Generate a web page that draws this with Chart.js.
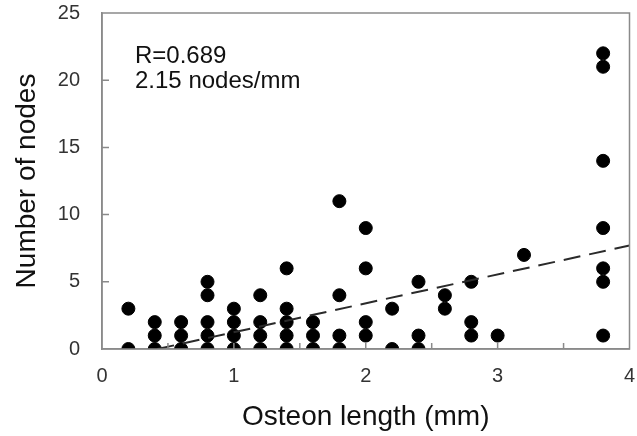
<!DOCTYPE html>
<html>
<head>
<meta charset="utf-8">
<script src="https://cdn.jsdelivr.net/npm/chart.js@4"></script>
<style>
  html, body { margin: 0; padding: 0; background: #fff; }
  #wrap { width: 637px; height: 436px; }
</style>
</head>
<body>
<div id="wrap"><canvas id="scatterChart" width="637" height="436"></canvas></div>
<script>
// osteon length columns (mm) and the node counts seen at each one
const osteonLength = [0.2, 0.4, 0.6, 0.8, 1.0, 1.2, 1.4, 1.6, 1.8, 2.0, 2.2, 2.4, 2.6, 2.8, 3.0, 3.2, 3.8];
const nodeCounts = [
  [0, 3],
  [0, 1, 2],
  [0, 1, 2],
  [0, 1, 2, 4, 5],
  [0, 1, 2, 3],
  [0, 1, 2, 4],
  [0, 1, 2, 3, 6],
  [0, 1, 2],
  [0, 1, 4, 11],
  [1, 2, 6, 9],
  [0, 3],
  [0, 1, 5],
  [3, 4],
  [1, 2, 5],
  [1],
  [7],
  [1, 5, 6, 9, 14, 21, 22]
];

// regression line, 2.15 nodes/mm
const fitX = [0.42, 4.0];
const fitY = [0, 7.7];

const xTicks = [0, 1, 2, 3, 4];
const yTicks = [0, 5, 10, 15, 20, 25];
const notes = ['R=0.689', '2.15 nodes/mm'];

const FONT = 'Arial, "Liberation Sans", sans-serif';
const AXIS = '#8a8a8a';

const points = [];
osteonLength.forEach((x, i) => {
  nodeCounts[i].forEach(y => points.push({ x: x, y: y }));
});

// box round the plot, inward ticks and the R / slope text
const framePlugin = {
  id: 'frame',
  afterDraw(chart) {
    const { ctx, chartArea: a, scales } = chart;
    ctx.save();
    ctx.strokeStyle = AXIS;
    ctx.lineWidth = 1.5;
    ctx.strokeRect(a.left, a.top, a.right - a.left, a.bottom - a.top);
    ctx.beginPath();
    for (let v = 0.5; v < 4; v += 0.5) {
      const px = scales.x.getPixelForValue(v);
      ctx.moveTo(px, a.bottom);
      ctx.lineTo(px, a.bottom - 6);
    }
    yTicks.slice(1, -1).forEach(v => {
      const py = scales.y.getPixelForValue(v);
      ctx.moveTo(a.left, py);
      ctx.lineTo(a.left + 7, py);
    });
    ctx.stroke();
    ctx.fillStyle = '#111';
    ctx.font = '24px ' + FONT;
    ctx.textBaseline = 'alphabetic';
    ctx.fillText(notes[0], a.left + 33, a.top + 50);
    ctx.fillText(notes[1], a.left + 33, a.top + 75);
    ctx.restore();
  }
};

const ctx = document.getElementById('scatterChart').getContext('2d');
new Chart(ctx, {
  type: 'scatter',
  data: {
    datasets: [
      {
        label: 'fit',
        data: fitX.map((x, i) => ({ x: x, y: fitY[i] })),
        showLine: true,
        borderColor: '#2a2a2a',
        borderWidth: 2,
        borderDash: [17, 9],
        pointRadius: 0,
        fill: false
      },
      {
        label: 'nodes',
        data: points,
        backgroundColor: '#000',
        borderColor: '#000',
        pointRadius: 6.5,
        pointHoverRadius: 6.5
      }
    ]
  },
  options: {
    responsive: false,
    animation: false,
    layout: { padding: { top: 13, right: 4, left: 0, bottom: 0 } },
    plugins: { legend: { display: false }, tooltip: { enabled: false } },
    scales: {
      x: {
        type: 'linear',
        min: 0,
        max: 4,
        afterFit: s => { s.height = 87; s.paddingLeft = 0; s.paddingRight = 0; },
        afterBuildTicks: s => { s.ticks = xTicks.map(v => ({ value: v })); },
        grid: { display: false },
        border: { color: AXIS, width: 1.5 },
        ticks: { color: '#333', font: { family: FONT, size: 20 }, padding: 7, maxRotation: 0, autoSkip: false },
        title: { display: true, text: 'Osteon length (mm)', color: '#111', font: { family: FONT, size: 28 }, padding: { top: 0, bottom: 2 } }
      },
      y: {
        type: 'linear',
        min: 0,
        max: 25,
        afterFit: s => { s.width = 102; s.paddingTop = 0; s.paddingBottom = 0; },
        afterBuildTicks: s => { s.ticks = yTicks.map(v => ({ value: v })); },
        grid: { display: false },
        border: { color: AXIS, width: 1.5 },
        ticks: { color: '#333', font: { family: FONT, size: 20 }, padding: 14 },
        title: { display: true, text: 'Number of nodes', color: '#111', font: { family: FONT, size: 28 }, padding: { top: 10, bottom: 0 } }
      }
    }
  },
  plugins: [framePlugin]
});
</script>
</body>
</html>
